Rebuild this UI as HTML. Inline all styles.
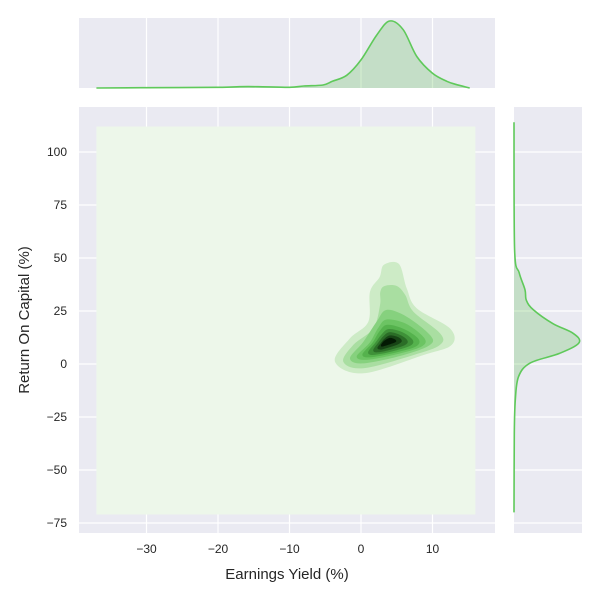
<!DOCTYPE html>
<html><head><meta charset="utf-8">
<style>
html,body{margin:0;padding:0;background:#fff;}
svg{display:block;font-family:"Liberation Sans",sans-serif;}
</style></head>
<body>
<svg id="chart" width="600" height="600">
  <rect x="79" y="107" width="416" height="426" fill="#eaeaf2"/>
  <rect x="79" y="18" width="416" height="70" fill="#eaeaf2"/>
  <rect x="514" y="107" width="68" height="426" fill="#eaeaf2"/>
  <g id="grid"></g>
  <g id="contours"></g>
  <g id="margins"></g>
  <g id="ticks" font-size="12" fill="#262626"></g>
  <text x="287" y="579" text-anchor="middle" font-size="15" fill="#262626">Earnings Yield (%)</text>
  <text transform="translate(29,320) rotate(-90)" text-anchor="middle" font-size="15" fill="#262626">Return On Capital (%)</text>
</svg>
<script>
const xTicks=[-30,-20,-10,0,10];
const yTicks=[100,75,50,25,0,-25,-50,-75];
const kdeRange={x0:-37,x1:16,y0:-71,y1:112};
const levelColors=["#cdebc6","#a9dea1","#86d17e","#6cc463","#55b24d","#3f9139","#2b6d27","#174415","#031a03"];
const level1=[[3.2,46.8],[5.3,47.2],[6.39,35.7],[7.79,26.3],[12.45,16.8],[12.68,9.0],[8.72,4.2],[0.33,-4.4],[-3.64,1.1],[-1.54,12.1],[1.03,20.0],[1.26,34.1],[2.6,41.0]];
const level2=[[3.3,36.8],[5.0,36.8],[6.2,32.5],[7.32,24.7],[11.05,14.5],[11.05,9.0],[7.32,4.2],[0.33,-2.0],[-2.47,1.1],[-1.07,9.0],[1.72,16.8],[2.66,27.8],[2.7,34.0]];
const level3=[[3.59,25.5],[6.39,22.3],[9.65,13.7],[9.65,9.0],[5.92,4.2],[0.33,0.3],[-1.54,2.7],[0.33,10.5],[2.19,20.0]];
const level4=[[3.6,21],[6.3,19],[8.8,12.5],[8.6,8.5],[5.5,5],[1,2],[-0.6,3.5],[1.2,10],[2.4,17]];
const level5=[[3.7,18.5],[6,16.5],[8,12],[7.8,8.5],[5.3,5.8],[1.4,3.2],[0.2,4.5],[1.6,10],[2.6,15.5]];
const level6=[[3.9,16.5],[5.8,15],[7.2,11.5],[7,8.8],[5,6.5],[1.9,4.3],[1,5.5],[2,10],[2.9,14]];
const level7=[[4,15],[5.6,13.5],[6.5,11],[6.2,9],[4.6,7.2],[2.4,5.5],[1.7,6.5],[2.4,10],[3.1,13]];
const level8=[[4.1,13.5],[5.3,12.5],[5.7,10.8],[5.2,9.3],[4.1,8],[2.8,6.8],[2.3,7.6],[2.8,10],[3.3,12]];
const level9=[[4.1,12.3],[4.8,11.5],[4.9,10.5],[4.3,9.6],[3.4,8.6],[2.9,8.2],[2.8,9],[3.1,10.5],[3.5,11.5]];
const levels=[level1,level2,level3,level4,level5,level6,level7,level8,level9];
const xDensX=[-37,-30,-20,-17,-14.4,-10,-8,-5.3,-4,-2,0,2.2,4,5.9,7.8,10,12,13.4,15.2];
const xDensV=[0,0.005,0.01,0.02,0.02,0.01,0.03,0.045,0.1,0.19,0.42,0.79,1.0,0.87,0.47,0.22,0.1,0.05,0];
const yDensY=[114,54,43,35,30,25.5,19,14.5,10,5,0.5,-6,-17,-33,-70];
const yDensV=[0,0.01,0.08,0.17,0.19,0.3,0.6,0.91,1.0,0.7,0.25,0.07,0.02,0.005,0];

const NS="http://www.w3.org/2000/svg";
const sx=v=>361+v*7.15;
const sy=v=>364-v*2.12;
function mk(tag,attrs,parent){const e=document.createElementNS(NS,tag);for(const k in attrs)e.setAttribute(k,attrs[k]);parent.appendChild(e);return e;}
function smooth(pts,closed){
  const n=pts.length;let d="M"+pts[0][0].toFixed(1)+","+pts[0][1].toFixed(1);
  const get=i=>closed?pts[(i+n)%n]:pts[Math.max(0,Math.min(n-1,i))];
  const m=closed?n:n-1;
  for(let i=0;i<m;i++){const p0=get(i-1),p1=get(i),p2=get(i+1),p3=get(i+2);
    const c1=[p1[0]+(p2[0]-p0[0])/6,p1[1]+(p2[1]-p0[1])/6],c2=[p2[0]-(p3[0]-p1[0])/6,p2[1]-(p3[1]-p1[1])/6];
    d+="C"+c1[0].toFixed(1)+","+c1[1].toFixed(1)+" "+c2[0].toFixed(1)+","+c2[1].toFixed(1)+" "+p2[0].toFixed(1)+","+p2[1].toFixed(1);}
  return d+(closed?"Z":"");
}
const grid=document.getElementById('grid');
xTicks.forEach(t=>{
  const l1=mk('line',{x1:sx(t),x2:sx(t),y1:107,y2:533,stroke:"#fff","stroke-width":1.2},grid);
  
  
  const l2=mk('line',{x1:sx(t),x2:sx(t),y1:18,y2:88,stroke:"#fff","stroke-width":1.2},grid);
  
  
});
yTicks.forEach(t=>{
  const l1=mk('line',{x1:79,x2:495,y1:sy(t),y2:sy(t),stroke:"#fff","stroke-width":1.2},grid);
  
  
  const l2=mk('line',{x1:514,x2:582,y1:sy(t),y2:sy(t),stroke:"#fff","stroke-width":1.2},grid);
  
  
});
const cg=document.getElementById('contours');
const bg=mk('rect',{x:sx(kdeRange.x0),y:sy(kdeRange.y1),width:sx(kdeRange.x1)-sx(kdeRange.x0),height:sy(kdeRange.y0)-sy(kdeRange.y1),fill:"#edf7ea"},cg);


levels.forEach((lv,i)=>{
  const p=mk('path',{d:smooth(lv.map(q=>[sx(q[0]),sy(q[1])]),true),fill:levelColors[i]},cg);
  
  
});
const mg=document.getElementById('margins');
const tx=v=>88-v*67, rx=v=>514+v*65;
const tpts=xDensX.map((x,i)=>[sx(x),tx(xDensV[i])]);
const tline=smooth(tpts,false);
const tf=mk('path',{d:tline+"L"+tpts[tpts.length-1][0]+",88L"+tpts[0][0]+",88Z",fill:"#6cc463","fill-opacity":0.3},mg);


const tl=mk('path',{d:tline,fill:"none",stroke:"#5fc95a","stroke-width":1.6},mg);


const rpts=yDensY.map((y,i)=>[rx(yDensV[i]),sy(y)]);
const rline=smooth(rpts,false);
const rf=mk('path',{d:rline+"L514,"+rpts[rpts.length-1][1]+"L514,"+rpts[0][1]+"Z",fill:"#6cc463","fill-opacity":0.3},mg);


const rl=mk('path',{d:rline,fill:"none",stroke:"#5fc95a","stroke-width":1.6},mg);


const tg=document.getElementById('ticks');
xTicks.forEach(t=>{
  const e=mk('text',{x:sx(t),y:553,"text-anchor":"middle"},tg);e.textContent=t<0?"\u2212"+(-t):t;
  
  
});
yTicks.forEach(t=>{
  const e=mk('text',{x:67,y:sy(t)+4,"text-anchor":"end"},tg);e.textContent=t<0?"\u2212"+(-t):t;
  
  
});
</script>
</body></html>
